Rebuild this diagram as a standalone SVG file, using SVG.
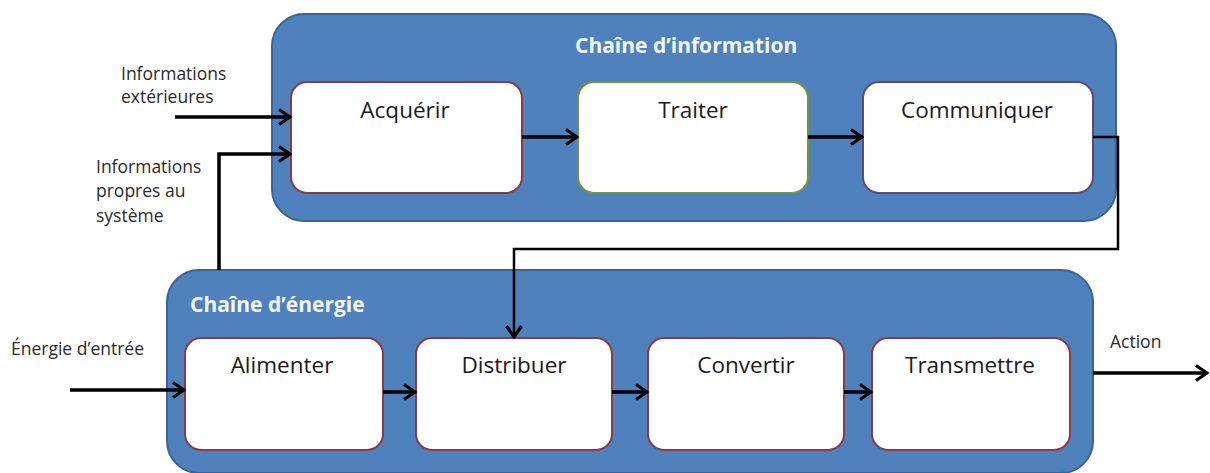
<svg xmlns="http://www.w3.org/2000/svg" width="1210" height="473" viewBox="0 0 1210 473">
  <style>
    .chain { fill: #4F81BD; stroke: #3B6496; stroke-width: 2; }
    .box { fill: #FFFFFF; stroke: #8C3A4A; stroke-width: 2; }
    .box.green { stroke: #76923C; }
    .box.purple { stroke: #5F497A; }
    .title { font-family: "Open Sans", "Noto Sans", sans-serif; font-weight: bold; font-size: 21px; fill: #F2F6FB; }
    .label { font-family: "Open Sans", "Noto Sans", sans-serif; font-size: 22.5px; fill: #1A1A1A; text-anchor: middle; }
    .side { font-family: "Open Sans", "Noto Sans", sans-serif; font-size: 17.5px; fill: #2A2A2A; }
    .conn { fill: none; stroke: #000000; stroke-width: 3.5; }
    .conn.thin { stroke-width: 2.5; }
  </style>
  <defs>
    <marker id="arrow" markerUnits="userSpaceOnUse" viewBox="0 0 15 18" markerWidth="15" markerHeight="18" refX="13" refY="9" orient="auto">
      <path d="M2,1.5 L13,9 L2,16.5" fill="none" stroke="#000000" stroke-width="3.2" stroke-linejoin="miter"/>
    </marker>
  </defs>

  <g id="chaine-information">
    <rect class="chain" x="272" y="14" width="844" height="207" rx="32" ry="32"/>
    <text class="title" x="575" y="53">Chaîne d’information</text>
  </g>
  <g id="chaine-energie">
    <rect class="chain" x="167" y="270" width="926" height="203" rx="32" ry="32"/>
    <text class="title" x="190" y="312">Chaîne d’énergie</text>
  </g>

  <g id="acquerir">
    <rect class="box" x="291" y="82" width="231" height="111" rx="16" ry="16"/>
    <text class="label" x="405" y="118">Acquérir</text>
  </g>
  <g id="traiter">
    <rect class="box green" x="578" y="82" width="230" height="111" rx="16" ry="16"/>
    <text class="label" x="693" y="118">Traiter</text>
  </g>
  <g id="communiquer">
    <rect class="box purple" x="863" y="82" width="230" height="111" rx="16" ry="16"/>
    <text class="label" x="977" y="118">Communiquer</text>
  </g>

  <g id="alimenter">
    <rect class="box" x="185" y="338" width="198" height="112" rx="16" ry="16"/>
    <text class="label" x="282" y="373">Alimenter</text>
  </g>
  <g id="distribuer">
    <rect class="box" x="416" y="338" width="196" height="112" rx="16" ry="16"/>
    <text class="label" x="514" y="373">Distribuer</text>
  </g>
  <g id="convertir">
    <rect class="box" x="648" y="338" width="196" height="112" rx="16" ry="16"/>
    <text class="label" x="746" y="373">Convertir</text>
  </g>
  <g id="transmettre">
    <rect class="box" x="872" y="338" width="198" height="112" rx="16" ry="16"/>
    <text class="label" x="970" y="373">Transmettre</text>
  </g>

  <g id="labels">
    <text class="side" x="121" y="80">Informations</text>
    <text class="side" x="121" y="103">extérieures</text>
    <text class="side" x="96" y="173">Informations</text>
    <text class="side" x="96" y="197">propres au</text>
    <text class="side" x="96" y="222">système</text>
    <text class="side" x="11" y="355">Énergie d’entrée</text>
    <text class="side" x="1110" y="348">Action</text>
  </g>

  <g id="connectors">
    <path class="conn" d="M175,117 H290" marker-end="url(#arrow)"/>
    <path class="conn" d="M219,270 V154 H290" marker-end="url(#arrow)"/>
    <path class="conn" d="M522,137 H577" marker-end="url(#arrow)"/>
    <path class="conn" d="M808,137 H862" marker-end="url(#arrow)"/>
    <path class="conn thin" d="M1093,137 H1118 V249 H514 V337" marker-end="url(#arrow)"/>
    <path class="conn" d="M70,390 H184" marker-end="url(#arrow)"/>
    <path class="conn" d="M383,392 H415" marker-end="url(#arrow)"/>
    <path class="conn" d="M612,392 H647" marker-end="url(#arrow)"/>
    <path class="conn" d="M844,392 H871" marker-end="url(#arrow)"/>
    <path class="conn" d="M1093,373 H1207" marker-end="url(#arrow)"/>
  </g>
</svg>
